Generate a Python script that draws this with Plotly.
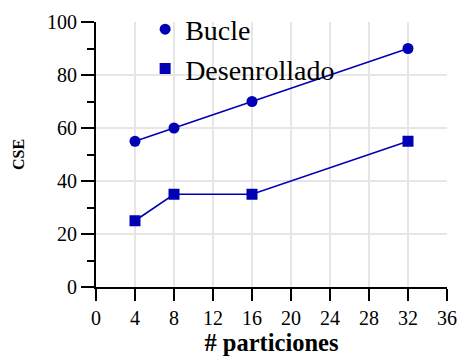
import plotly.graph_objects as go

particiones = [4, 8, 16, 32]
bucle = [55, 60, 70, 90]
desenrollado = [25, 35, 35, 55]
x_ticks = [0, 4, 8, 12, 16, 20, 24, 28, 32, 36]
y_ticks = [0, 20, 40, 60, 80, 100]

color = "#0000B4"
ff = "Liberation Serif"

fig = go.Figure()
for name, vals, sym in [("Bucle", bucle, "circle"), ("Desenrollado", desenrollado, "square")]:
    fig.add_trace(go.Scatter(x=particiones, y=vals, mode="lines+markers", name=name,
                             showlegend=False,
                             line=dict(color=color, width=1.6),
                             marker=dict(symbol=sym, size=11, color=color)))
    # legend entry showing only the marker
    fig.add_trace(go.Scatter(x=[None], y=[None], mode="markers", name=name,
                             marker=dict(symbol=sym, size=11, color=color)))

fig.update_layout(
    width=459, height=358,
    margin=dict(l=96, r=12, t=22, b=71, autoexpand=False),
    paper_bgcolor="white", plot_bgcolor="white",
    font=dict(family=ff, color="black", size=20),
    showlegend=True,
    legend=dict(x=0.14, y=1.066, xanchor="left", yanchor="top",
                bgcolor="rgba(0,0,0,0)", font=dict(size=28, family=ff, color="black"),
                itemwidth=30, tracegroupgap=0),
)
fig.update_xaxes(
    range=[0, 36], tickvals=x_ticks, ticktext=[str(v) for v in x_ticks],
    showline=True, linecolor="black", linewidth=2,
    ticks="outside", ticklen=12, tickwidth=2, tickcolor="black",
    showgrid=True, gridcolor="#e6e6e6", gridwidth=1.5, zeroline=False,
    tickfont=dict(size=20, family=ff, color="black"), automargin=False,
    title=dict(text="<b># particiones</b>", font=dict(size=24.5, family=ff, color="black"), standoff=5),
)
fig.update_yaxes(
    range=[0, 100], tickvals=y_ticks, ticktext=[str(v) for v in y_ticks],
    showline=True, linecolor="black", linewidth=2,
    ticks="outside", ticklen=13, tickwidth=2, tickcolor="black",
    showgrid=True, gridcolor="#e6e6e6", gridwidth=1.5, zeroline=False,
    tickfont=dict(size=20, family=ff, color="black"), automargin=False,
    minor=dict(dtick=10, ticks="outside", ticklen=7, tickwidth=2, tickcolor="black", showgrid=False),
    title=dict(text="<b>CSE</b>", font=dict(size=16, family=ff, color="black"), standoff=18),
)

fig.write_html("out.html")
